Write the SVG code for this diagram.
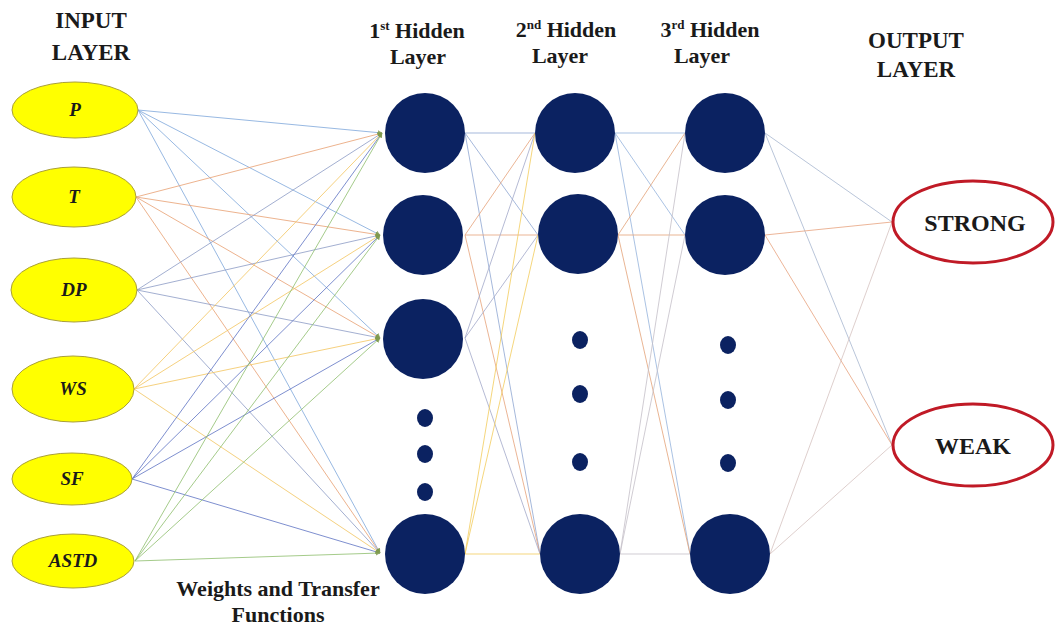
<svg xmlns="http://www.w3.org/2000/svg" width="1056" height="628" viewBox="0 0 1056 628">
<defs>
<marker id="ah" viewBox="0 0 10 10" refX="9" refY="5" markerWidth="5" markerHeight="5" orient="auto" markerUnits="userSpaceOnUse">
<path d="M0,0 L10,5 L0,10 z" fill="#7f9a4e"/>
</marker>
<style>
.hdr{font-family:"Liberation Serif","Times New Roman",serif;font-weight:bold;font-size:22px;fill:#1a1a1a;text-anchor:middle}
.big{font-size:23px}
.sup{font-size:13px}
.inp{fill:#ffff00;stroke:#a99f3a;stroke-width:1}
.inl{font-family:"Liberation Serif","Times New Roman",serif;font-weight:bold;font-style:italic;font-size:19px;fill:#1a1a1a;text-anchor:middle}
.hid{fill:#0b2261}
.out{fill:#ffffff;stroke:#c01a26;stroke-width:3}
.otl{font-family:"Liberation Serif","Times New Roman",serif;font-weight:bold;font-size:24px;fill:#1a1a1a;text-anchor:middle}
.c{fill:none;stroke-width:1;opacity:0.8}
.cp{stroke:#7fa8dc}
.ct{stroke:#e9a173}
.cd{stroke:#8d9cc6}
.cw{stroke:#f4c660}
.cs{stroke:#5f74c4}
.ca{stroke:#8fbf6e}
.h1a{stroke:#8ea6d2}
.h1b{stroke:#e6a27a}
.h1c{stroke:#a3a9c9}
.h1d{stroke:#f2cc5c}
.h2a{stroke:#95b3dc}
.h2b{stroke:#e3a278}
.h2c{stroke:#c4bfc8}
.h3a{stroke:#a7b7d0}
.h3b{stroke:#e7a27e}
.h3c{stroke:#d6c3c0}
</style>
</defs>
<rect x="0" y="0" width="1056" height="628" fill="#ffffff"/>

<g id="labels">
<text class="hdr big" x="91" y="28">INPUT</text>
<text class="hdr big" x="91" y="60">LAYER</text>
<text class="hdr" x="417" y="38">1<tspan class="sup" dy="-8">st</tspan><tspan dy="8"> Hidden</tspan></text>
<text class="hdr" x="418" y="64">Layer</text>
<text class="hdr" x="566" y="37">2<tspan class="sup" dy="-8">nd</tspan><tspan dy="8"> Hidden</tspan></text>
<text class="hdr" x="560" y="63">Layer</text>
<text class="hdr" x="710" y="37">3<tspan class="sup" dy="-8">rd</tspan><tspan dy="8"> Hidden</tspan></text>
<text class="hdr" x="702" y="63">Layer</text>
<text class="hdr big" x="916" y="48">OUTPUT</text>
<text class="hdr big" x="916" y="77">LAYER</text>
<text class="hdr" x="278" y="596" style="font-size:22px">Weights and Transfer</text>
<text class="hdr" x="278" y="622" style="font-size:22px">Functions</text>
</g>

<g id="connectors">
<line class="c cp" x1="138" y1="110" x2="382" y2="133" marker-end="url(#ah)"/>
<line class="c cp" x1="138" y1="110" x2="380" y2="235" marker-end="url(#ah)"/>
<line class="c cp" x1="138" y1="110" x2="380" y2="338" marker-end="url(#ah)"/>
<line class="c cp" x1="138" y1="110" x2="380" y2="553" marker-end="url(#ah)"/>
<line class="c ct" x1="136" y1="197" x2="382" y2="133" marker-end="url(#ah)"/>
<line class="c ct" x1="136" y1="197" x2="380" y2="235" marker-end="url(#ah)"/>
<line class="c ct" x1="136" y1="197" x2="380" y2="338" marker-end="url(#ah)"/>
<line class="c ct" x1="136" y1="197" x2="380" y2="553" marker-end="url(#ah)"/>
<line class="c cd" x1="137" y1="290" x2="382" y2="133" marker-end="url(#ah)"/>
<line class="c cd" x1="137" y1="290" x2="380" y2="235" marker-end="url(#ah)"/>
<line class="c cd" x1="137" y1="290" x2="380" y2="338" marker-end="url(#ah)"/>
<line class="c cd" x1="137" y1="290" x2="380" y2="553" marker-end="url(#ah)"/>
<line class="c cw" x1="134" y1="389" x2="382" y2="133" marker-end="url(#ah)"/>
<line class="c cw" x1="134" y1="389" x2="380" y2="235" marker-end="url(#ah)"/>
<line class="c cw" x1="134" y1="389" x2="380" y2="338" marker-end="url(#ah)"/>
<line class="c cw" x1="134" y1="389" x2="380" y2="553" marker-end="url(#ah)"/>
<line class="c cs" x1="132" y1="479" x2="382" y2="133" marker-end="url(#ah)"/>
<line class="c cs" x1="132" y1="479" x2="380" y2="235" marker-end="url(#ah)"/>
<line class="c cs" x1="132" y1="479" x2="380" y2="338" marker-end="url(#ah)"/>
<line class="c cs" x1="132" y1="479" x2="380" y2="553" marker-end="url(#ah)"/>
<line class="c ca" x1="135" y1="561" x2="382" y2="133" marker-end="url(#ah)"/>
<line class="c ca" x1="135" y1="561" x2="380" y2="235" marker-end="url(#ah)"/>
<line class="c ca" x1="135" y1="561" x2="380" y2="338" marker-end="url(#ah)"/>
<line class="c ca" x1="135" y1="561" x2="380" y2="553" marker-end="url(#ah)"/>
<line class="c h1a" x1="465" y1="133" x2="535" y2="133"/>
<line class="c h1a" x1="465" y1="133" x2="538" y2="235"/>
<line class="c h1a" x1="465" y1="133" x2="540" y2="554"/>
<line class="c h1b" x1="465" y1="235" x2="535" y2="133"/>
<line class="c h1b" x1="465" y1="235" x2="538" y2="235"/>
<line class="c h1b" x1="465" y1="235" x2="540" y2="554"/>
<line class="c h1c" x1="465" y1="338" x2="535" y2="133"/>
<line class="c h1c" x1="465" y1="338" x2="538" y2="235"/>
<line class="c h1c" x1="465" y1="338" x2="540" y2="554"/>
<line class="c h1d" x1="465" y1="554" x2="535" y2="133"/>
<line class="c h1d" x1="465" y1="554" x2="538" y2="235"/>
<line class="c h1d" x1="465" y1="554" x2="540" y2="554"/>
<line class="c h2a" x1="615" y1="133" x2="685" y2="133"/>
<line class="c h2a" x1="615" y1="133" x2="685" y2="235"/>
<line class="c h2a" x1="615" y1="133" x2="690" y2="554"/>
<line class="c h2b" x1="618" y1="235" x2="685" y2="133"/>
<line class="c h2b" x1="618" y1="235" x2="685" y2="235"/>
<line class="c h2b" x1="618" y1="235" x2="690" y2="554"/>
<line class="c h2c" x1="620" y1="554" x2="685" y2="133"/>
<line class="c h2c" x1="620" y1="554" x2="685" y2="235"/>
<line class="c h2c" x1="620" y1="554" x2="690" y2="554"/>
<line class="c h3a" x1="765" y1="133" x2="892" y2="222"/>
<line class="c h3a" x1="765" y1="133" x2="892" y2="445"/>
<line class="c h3b" x1="765" y1="235" x2="892" y2="222"/>
<line class="c h3b" x1="765" y1="235" x2="892" y2="445"/>
<line class="c h3c" x1="770" y1="554" x2="892" y2="222"/>
<line class="c h3c" x1="770" y1="554" x2="892" y2="445"/>
</g>

<g id="in-P"><ellipse class="inp" cx="75" cy="110" rx="63" ry="28"/><text class="inl" x="75" y="116">P</text></g>
<g id="in-T"><ellipse class="inp" cx="74" cy="197" rx="62" ry="30"/><text class="inl" x="74" y="203">T</text></g>
<g id="in-DP"><ellipse class="inp" cx="74" cy="290" rx="63" ry="32"/><text class="inl" x="74" y="296">DP</text></g>
<g id="in-WS"><ellipse class="inp" cx="73" cy="389" rx="61" ry="33"/><text class="inl" x="73" y="395">WS</text></g>
<g id="in-SF"><ellipse class="inp" cx="72" cy="479" rx="60" ry="26"/><text class="inl" x="72" y="485">SF</text></g>
<g id="in-ASTD"><ellipse class="inp" cx="73" cy="561" rx="61" ry="27"/><text class="inl" x="73" y="567">ASTD</text></g>

<g id="h1-1"><circle class="hid" cx="425" cy="133" r="40"/></g>
<g id="h1-2"><circle class="hid" cx="423" cy="235" r="40"/></g>
<g id="h1-3"><circle class="hid" cx="423" cy="339" r="40"/></g>
<g id="h1-dots"><ellipse class="hid" cx="425" cy="418" rx="8" ry="9"/><ellipse class="hid" cx="425" cy="454" rx="8" ry="9"/><ellipse class="hid" cx="425" cy="492" rx="8" ry="9"/></g>
<g id="h1-4"><circle class="hid" cx="425" cy="554" r="40"/></g>

<g id="h2-1"><circle class="hid" cx="575" cy="133" r="40"/></g>
<g id="h2-2"><circle class="hid" cx="578" cy="234" r="40"/></g>
<g id="h2-dots"><ellipse class="hid" cx="580" cy="340" rx="8" ry="9"/><ellipse class="hid" cx="580" cy="394" rx="8" ry="9"/><ellipse class="hid" cx="580" cy="462" rx="8" ry="9"/></g>
<g id="h2-3"><circle class="hid" cx="580" cy="554" r="40"/></g>

<g id="h3-1"><circle class="hid" cx="725" cy="133" r="40"/></g>
<g id="h3-2"><circle class="hid" cx="725" cy="235" r="40"/></g>
<g id="h3-dots"><ellipse class="hid" cx="728" cy="345" rx="8" ry="9"/><ellipse class="hid" cx="728" cy="400" rx="8" ry="9"/><ellipse class="hid" cx="728" cy="463" rx="8" ry="9"/></g>
<g id="h3-3"><circle class="hid" cx="730" cy="554" r="40"/></g>

<g id="out-strong"><ellipse class="out" cx="973" cy="222" rx="80" ry="41"/><text class="otl" x="975" y="231">STRONG</text></g>
<g id="out-weak"><ellipse class="out" cx="973" cy="445" rx="80" ry="41"/><text class="otl" x="973" y="454">WEAK</text></g>
</svg>
